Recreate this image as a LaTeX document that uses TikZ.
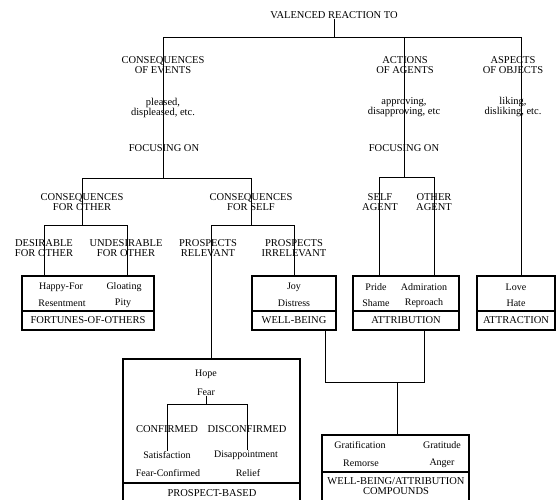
\documentclass[tikz,border=0pt]{standalone}
\usepackage{fontspec}
\setmainfont{Liberation Serif}
\begin{document}
\begin{tikzpicture}[x=1pt,y=-1pt,
  lbl/.style={font=\fontsize{10.5}{10}\selectfont, align=center, inner sep=0pt},
  item/.style={font=\fontsize{10}{10}\selectfont, inner sep=0pt},
  catbox/.style={draw, line width=1.3pt, inner sep=0pt},
  divider/.style={line width=1.2pt},
  conn/.style={line width=0.9pt}]
\useasboundingbox (0,0) rectangle (558,499);

% ---------- top level ----------
\node[lbl] (title) at (334,15) {VALENCED REACTION TO};
\coordinate (tj) at (334,37);
\coordinate (ev0) at (163,37);
\coordinate (ac0) at (404,37);
\coordinate (ob0) at (521,37);

\node[lbl] (events) at (163,65) {CONSEQUENCES\\OF EVENTS};
\node[lbl] (pleased) at (163,108) {pleased,\\displeased, etc.};
\node[lbl] (focus1) at (164,148) {FOCUSING ON};
\coordinate (ev1) at (163,178);

\node[lbl] (actions) at (405,65) {ACTIONS\\OF AGENTS};
\node[lbl] (approving) at (404,107) {approving,\\disapproving, etc};
\node[lbl] (focus2) at (404,148) {FOCUSING ON};
\coordinate (ac1) at (404,177);

\node[lbl] (objects) at (513,65) {ASPECTS\\OF OBJECTS};
\node[lbl] (liking) at (513,107) {liking,\\disliking, etc.};

% ---------- second level ----------
\coordinate (oth0) at (82,178);
\coordinate (slf0) at (251,178);
\node[lbl] (cfo) at (82,202) {CONSEQUENCES\\FOR OTHER};
\node[lbl] (cfs) at (251,202) {CONSEQUENCES\\FOR SELF};
\coordinate (oth1) at (82,225);
\coordinate (slf1) at (251,225);

\coordinate (sa0) at (379,177);
\coordinate (oa0) at (434,177);
\node[lbl] (selfag) at (380,202) {SELF\\AGENT};
\node[lbl] (othag) at (434,202) {OTHER\\AGENT};

% ---------- third level ----------
\coordinate (dfo) at (44,225);
\coordinate (ufo) at (127,225);
\coordinate (prr) at (211,225);
\coordinate (pri) at (294,225);
\node[lbl] (desir) at (44,248) {DESIRABLE\\FOR OTHER};
\node[lbl] (undes) at (126,248) {UNDESIRABLE\\FOR OTHER};
\node[lbl] (prel) at (208,248) {PROSPECTS\\RELEVANT};
\node[lbl] (pirr) at (294,248) {PROSPECTS\\IRRELEVANT};

% ---------- boxes ----------
\coordinate (divA) at (0,311);
\node[catbox, minimum width=132pt, minimum height=54pt] (fort) at (88,303) {};
\node[catbox, minimum width=84pt, minimum height=54pt] (wb) at (294,303) {};
\node[catbox, minimum width=106pt, minimum height=54pt] (attr) at (406,303) {};
\node[catbox, minimum width=78pt, minimum height=54pt] (attrac) at (516,303) {};
\draw[divider] (fort.west |- divA) -- (fort.east |- divA);
\draw[divider] (wb.west |- divA) -- (wb.east |- divA);
\draw[divider] (attr.west |- divA) -- (attr.east |- divA);
\draw[divider] (attrac.west |- divA) -- (attrac.east |- divA);

\node[item] (happy) at (61,287) {Happy-For};
\node[item] (gloat) at (124,287) {Gloating};
\node[item] (resent) at (62,303) {Resentment};
\node[item] (pity) at (123,303) {Pity};
\node[lbl] (fortlbl) at (88,320) {FORTUNES-OF-OTHERS};

\node[item] (joy) at (294,287) {Joy};
\node[item] (distress) at (294,303) {Distress};
\node[lbl] (wblbl) at (294,320) {WELL-BEING};

\node[item] (pride) at (376,287) {Pride};
\node[item] (admir) at (424,287) {Admiration};
\node[item] (shame) at (376,303) {Shame};
\node[item] (reproach) at (424,303) {Reproach};
\node[lbl] (attrlbl) at (406,320) {ATTRIBUTION};

\node[item] (love) at (516,287) {Love};
\node[item] (hate) at (516,303) {Hate};
\node[lbl] (attraclbl) at (516,320) {ATTRACTION};

% prospect-based box
\node[catbox, minimum width=177pt, minimum height=150pt] (pb) at (211.5,434) {};
\coordinate (divB) at (0,483);
\draw[divider] (pb.west |- divB) -- (pb.east |- divB);
\node[item] (hope) at (206,374) {Hope};
\node[item] (fear) at (206,392) {Fear};
\coordinate (fb) at (206,404);
\coordinate (cb1) at (167,404);
\coordinate (cb2) at (247,404);
\node[lbl] (confirmed) at (167,429) {CONFIRMED};
\node[lbl] (disconf) at (247,429) {DISCONFIRMED};
\node[item] (satis) at (167,455) {Satisfaction};
\node[item] (disapp) at (246,455) {Disappointment};
\node[item] (fearconf) at (168,473) {Fear-Confirmed};
\node[item] (relief) at (248,473) {Relief};
\node[lbl] (pblbl) at (212,493) {PROSPECT-BASED};

% compounds box
\node[catbox, minimum width=147pt, minimum height=74pt] (comp) at (395.5,472) {};
\coordinate (divC) at (0,472);
\draw[divider] (comp.west |- divC) -- (comp.east |- divC);
\node[item] (gratif) at (360,445) {Gratification};
\node[item] (gratit) at (442,445) {Gratitude};
\node[item] (remorse) at (361,463) {Remorse};
\node[item] (anger) at (442,463) {Anger};
\node[lbl] (complbl) at (396,486.5) {WELL-BEING/ATTRIBUTION\\COMPOUNDS};

\coordinate (wbl) at (325,382);
\coordinate (atl) at (424,382);
\coordinate (cmj) at (397,382);

% ---------- connectors ----------
\draw[conn] (title) -- (tj);
\draw[conn] (ev0) -- (ob0);
\draw[conn] (ev0) -- (ev1);
\draw[conn] (ac0) -- (ac1);
\draw[conn] (ob0) -- (ob0 |- attrac.north);

\draw[conn] (oth0) -- (slf0);
\draw[conn] (oth0) -- (oth1);
\draw[conn] (slf0) -- (slf1);
\draw[conn] (dfo) -- (ufo);
\draw[conn] (prr) -- (pri);
\draw[conn] (dfo) -- (dfo |- fort.north);
\draw[conn] (ufo) -- (ufo |- fort.north);
\draw[conn] (prr) -- (prr |- pb.north);
\draw[conn] (pri) -- (pri |- wb.north);

\draw[conn] (sa0) -- (oa0);
\draw[conn] (sa0) -- (sa0 |- attr.north);
\draw[conn] (oa0) -- (oa0 |- attr.north);

\draw[conn] (fear) -- (fb);
\draw[conn] (cb1) -- (cb2);
\draw[conn] (cb1) -- (satis);
\draw[conn] (cb2) -- (cb2 |- disapp.north);

\draw[conn] (wbl |- wb.south) -- (wbl) -- (atl) -- (atl |- attr.south);
\draw[conn] (cmj) -- (cmj |- comp.north);
\end{tikzpicture}
\end{document}
